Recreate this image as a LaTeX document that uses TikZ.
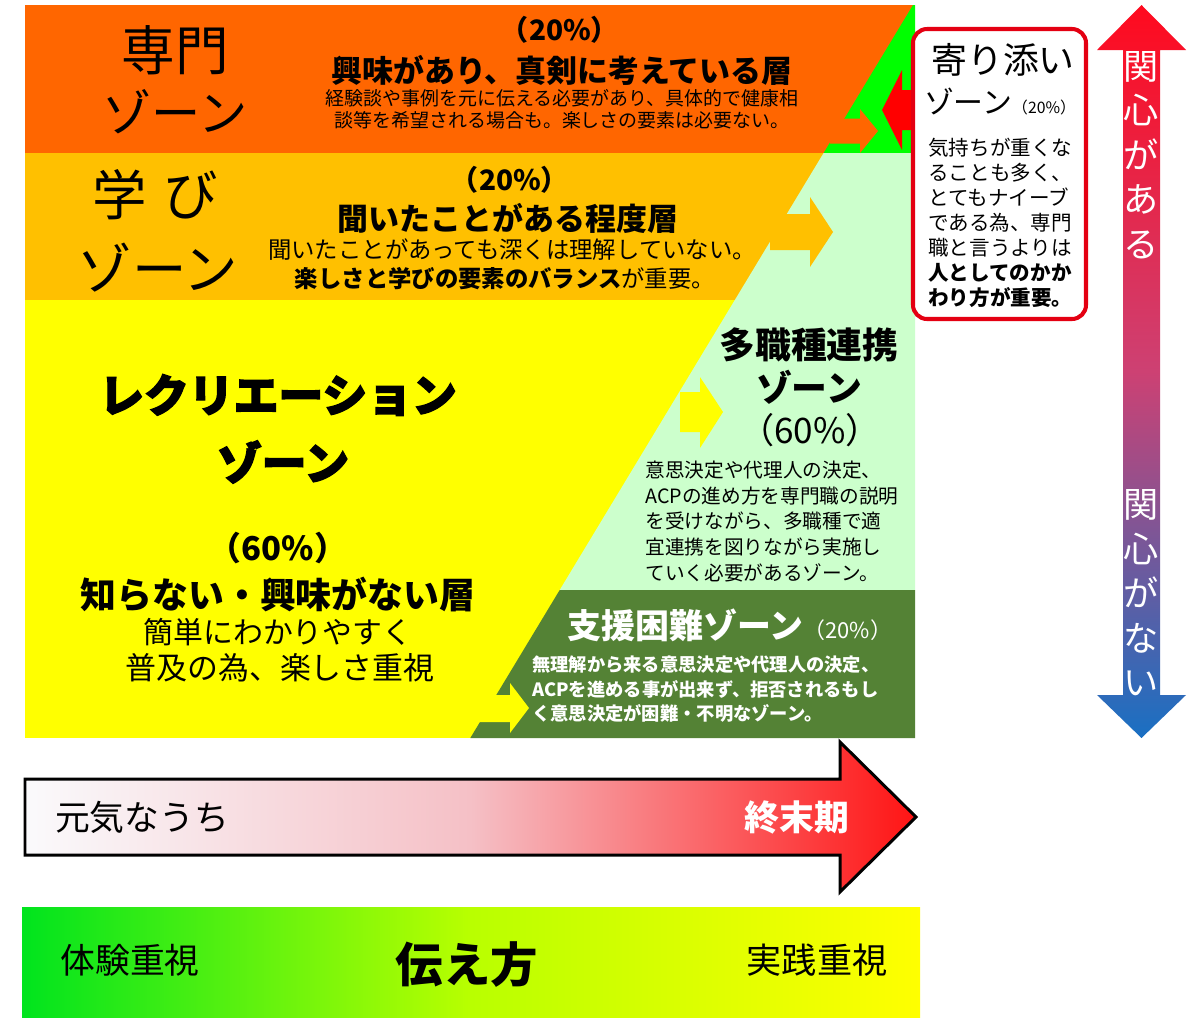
\documentclass[tikz,border=0pt]{standalone}
\usepackage{fontspec}
\setmainfont{Noto Sans CJK JP}
\newfontfamily\heavyjp{Noto Sans CJK JP}[BoldFeatures={FakeBold=3}]
\definecolor{cOrange}{RGB}{255,102,0}
\definecolor{cAmber}{RGB}{255,192,0}
\definecolor{cYellow}{RGB}{255,255,0}
\definecolor{cLight}{RGB}{204,255,204}
\definecolor{cDark}{RGB}{84,130,53}
\definecolor{cBright}{RGB}{0,255,0}
\definecolor{cRed}{RGB}{255,0,0}
\definecolor{cBoxRed}{RGB}{228,0,18}
\definecolor{cVTop}{RGB}{255,10,30}
\definecolor{cVMid}{RGB}{205,65,115}
\definecolor{cVBot}{RGB}{25,112,195}
\definecolor{cHLeft}{RGB}{250,250,252}
\definecolor{cHMid}{RGB}{245,192,198}
\definecolor{cHRight}{RGB}{255,20,20}
\definecolor{cGLeft}{RGB}{0,228,30}
\definecolor{cGMid}{RGB}{185,255,0}
\definecolor{cGRight}{RGB}{255,255,0}
\newcommand\fz[2]{\fontsize{#1}{#2}\selectfont}
\begin{document}
\begin{tikzpicture}[x=0.02cm,y=-0.02cm,
  lbl/.style={inner sep=0pt, anchor=center, text=black},
  para/.style={inner sep=0pt, anchor=west, align=left, text=black}]
\useasboundingbox (0,0) rectangle (1200,1031);
\fill[white] (0,0) rectangle (1200,1031);

% bands
\fill[cOrange] (25,5) rectangle (915,153);
\fill[cAmber] (25,153) rectangle (915,300);
\fill[cYellow] (25,300) rectangle (915,738);
% right-of-diagonal regions
\fill[cBright] (913,5) -- (915,5) -- (915,153) -- (823.6,153) -- cycle;
\fill[cLight] (823.6,153) -- (915,153) -- (915,590) -- (559.7,590) -- cycle;
\fill[cDark] (559.7,590) -- (915,590) -- (915,738) -- (470.3,738) -- cycle;

% right-pointing arrows of band colours
\fill[cOrange] (830,118.5) -- (860,118.5) -- (860,109) -- (878,131) -- (860,153) -- (860,143.5) -- (830,143.5) -- cycle;
\fill[cAmber] (770,214) -- (810,214) -- (810,197) -- (833,232) -- (810,267) -- (810,250) -- (770,250) -- cycle;
\fill[cYellow] (680,392) -- (700,392) -- (700,377) -- (723,412) -- (700,448) -- (700,432) -- (680,432) -- cycle;
\fill[cYellow] (470,695) -- (510,695) -- (510,683) -- (529,708) -- (510,733) -- (510,722) -- (470,722) -- cycle;
% red arrow from the box
\fill[cRed] (916,90) -- (902,90) -- (902,70) -- (882,110) -- (902,150) -- (902,130) -- (916,130) -- cycle;

% red box
\draw[cBoxRed, line width=2.3pt, fill=white, rounded corners=8pt] (913,29) rectangle (1086,319);

% vertical double arrow
\shade[top color=cVTop, bottom color=cVBot, middle color=cVMid]
  (1141.5,5) -- (1186,50) -- (1160,50) -- (1160,695) -- (1186,695) -- (1141.5,738)
  -- (1097,695) -- (1123,695) -- (1123,50) -- (1097,50) -- cycle;

% big horizontal arrow
\shadedraw[left color=cHLeft, right color=cHRight, middle color=cHMid, draw=black, line width=1.7pt, line join=miter]
  (25,779) -- (840,779) -- (840,742) -- (916,817) -- (840,892) -- (840,855) -- (25,855) -- cycle;

% bottom bar
\shade[left color=cGLeft, right color=cGRight, middle color=cGMid] (22,907) rectangle (920,1017);

% ---- texts: orange band
\node[lbl] (senmonA) at (175,50) {\fz{30.5pt}{30.5pt}専門};
\node[lbl] (senmonB) at (175,112) {\fz{28pt}{28pt}ゾーン};
\node[lbl] (oPct) at (560,30) {\fz{16pt}{16pt}\bfseries （20\%）};
\node[lbl] (oHead) at (562,70) {\fz{17.6pt}{17.6pt}\bfseries 興味があり、真剣に考えている層};
\node[lbl,align=center,font=\fz{10.8pt}{12.5pt}] (oBody) at (562,109) {経験談や事例を元に伝える必要があり、具体的で健康相\\談等を希望される場合も。楽しさの要素は必要ない。};

% amber band
\node[lbl] (gakuA) at (155,195) {\fz{31pt}{31pt}学\kern0.3emび};
\node[lbl] (gakuB) at (158,268) {\fz{31pt}{31pt}ゾーン};
\node[lbl] (aPct) at (510,180) {\fz{16pt}{16pt}\bfseries （20\%）};
\node[lbl] (aHead) at (508,218) {\fz{17.6pt}{17.6pt}\bfseries 聞いたことがある程度層};
\node[lbl] (aBody1) at (512,250) {\fz{13.3pt}{13.3pt}聞いたことがあっても深くは理解していない。};
\node[lbl] (aBody2) at (505,279) {\fz{13.3pt}{13.3pt}\textbf{楽しさと学びの要素のバランス}が重要。};

% yellow band
\node[lbl] (recA) at (278,395) {\fz{25.5pt}{25.5pt}\heavyjp\bfseries レクリエーション};
\node[lbl] (recB) at (283,462) {\fz{25.5pt}{25.5pt}\heavyjp\bfseries ゾーン};
\node[lbl] (yPct) at (278,548) {\fz{18.7pt}{18.7pt}\bfseries （60\%）};
\node[lbl] (yHead) at (278,595) {\fz{20.4pt}{20.4pt}\bfseries 知らない・興味がない層};
\node[lbl] (yBody1) at (278,632) {\fz{17pt}{17pt}簡単にわかりやすく};
\node[lbl] (yBody2) at (280,668) {\fz{17.6pt}{17.6pt}普及の為、楽しさ重視};

% light green
\node[lbl] (tHead1) at (809,345) {\fz{20.4pt}{20.4pt}\bfseries 多職種連携};
\node[lbl] (tHead2) at (809,387) {\fz{20.4pt}{20.4pt}\bfseries ゾーン};
\node[lbl] (tPct) at (810,430) {\fz{20pt}{20pt}（60\%）};
\node[para,font=\fz{11.2pt}{14.6pt}] (tBody) at (645,521.5) {意思決定や代理人の決定、\\ACPの進め方を専門職の説明\\を受けながら、多職種で適\\宜連携を図りながら実施し\\ていく必要があるゾーン。};

% dark green
\node[lbl,text=white] (dHead) at (730,625) {\fz{19.3pt}{19.3pt}\bfseries 支援困難ゾーン\fz{12.5pt}{12.5pt}\mdseries （20\%）};
\node[para,text=white,font=\fz{10.4pt}{13.9pt}\bfseries] (dBody) at (532,689.5) {無理解から来る意思決定や代理人の決定、\\ACPを進める事が出来ず、拒否されるもし\\く意思決定が困難・不明なゾーン。};

% red box texts
\node[lbl] (bHead1) at (1003,60) {\fz{20.4pt}{20.4pt}寄り添い};
\node[lbl] (bHead2) at (1000,102) {\fz{17pt}{17pt}ゾーン\fz{9pt}{9pt}（20\%）};
\node[para,font=\fz{11.7pt}{14.2pt}] (bBody) at (928,223) {気持ちが重くな\\ることも多く、\\とてもナイーブ\\である為、専門\\職と言うよりは\\\textbf{人としてのかか}\\\textbf{わり方が重要。}};

% vertical texts
\node[lbl,text=white,align=center,font=\fz{20pt}{25.3pt}] (kanA) at (1141,155) {関\\心\\が\\あ\\る};
\node[lbl,text=white,align=center,font=\fz{20pt}{25.3pt}] (kanB) at (1141,593) {関\\心\\が\\な\\い};

% arrow and bar texts
\node[lbl] (genki) at (142,817) {\fz{19.8pt}{19.8pt}元気なうち};
\node[lbl,text=white] (shumatsu) at (797,817) {\fz{19.8pt}{19.8pt}\bfseries 終末期};
\node[lbl] (taiken) at (130,960) {\fz{19.8pt}{19.8pt}体験重視};
\node[lbl] (tsutae) at (467,965) {\fz{27pt}{27pt}\bfseries 伝え方};
\node[lbl] (jissen) at (817,960) {\fz{20pt}{20pt}実践重視};
\end{tikzpicture}
\end{document}
